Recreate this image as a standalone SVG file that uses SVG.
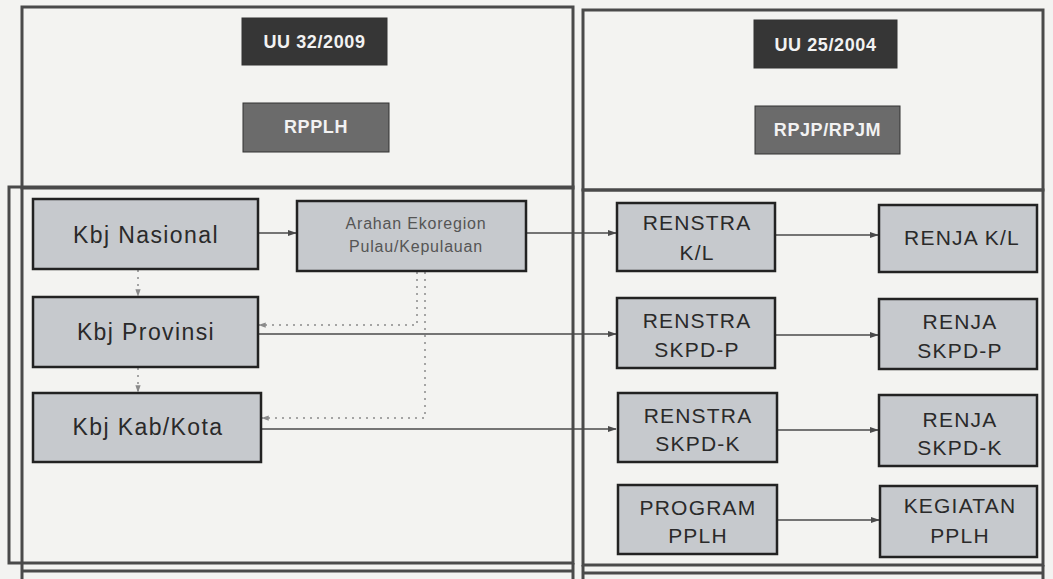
<svg xmlns="http://www.w3.org/2000/svg" width="1053" height="579" viewBox="0 0 1053 579">
  <defs>
    <style>
      .frame { fill: none; stroke: #4a4a4a; stroke-width: 3; }
      .node rect { fill: #c6c9cd; stroke: #222; stroke-width: 2.5; }
      .node text { font-family: "Liberation Sans", Arial, sans-serif; fill: #2a2a2a; text-anchor: middle; }
      .big { font-size: 23px; letter-spacing: 1.4px; }
      .mid { font-size: 21px; letter-spacing: 1.2px; }
      .small { font-size: 16px; letter-spacing: 0.8px; fill: #555 !important; }
      .hdr rect { stroke: #333; stroke-width: 1; }
      .hdr text { font-family: "Liberation Sans", Arial, sans-serif; font-weight: bold; font-size: 18px; fill: #f2f2f2; text-anchor: middle; letter-spacing: 0.6px; }
      .dark { fill: #363636; }
      .grey { fill: #6b6b6b; }
      .conn { fill: none; stroke: #4a4a4a; stroke-width: 1.5; }
      .dot { fill: none; stroke: #8a8a8a; stroke-width: 1.5; stroke-dasharray: 2 5; }
    </style>
    <marker id="arr" viewBox="0 0 10 10" refX="9" refY="5" markerWidth="6" markerHeight="6" orient="auto">
      <path d="M0,1.5 L10,5 L0,8.5 z" fill="#4a4a4a"/>
    </marker>
    <marker id="arrd" viewBox="0 0 10 10" refX="9" refY="5" markerWidth="5" markerHeight="5" orient="auto">
      <path d="M0,1.5 L10,5 L0,8.5 z" fill="#8a8a8a"/>
    </marker>
  </defs>

  <rect x="0" y="0" width="1053" height="579" fill="#f3f3f1"/>

  <g id="frames">
    <rect class="frame" x="22" y="7" width="551" height="181"/>
    <rect class="frame" x="9" y="187" width="564" height="376"/>
    <line class="frame" x1="22" y1="187" x2="22" y2="579"/>
    <line class="frame" x1="22" y1="571" x2="573" y2="571"/>
    <line class="frame" x1="573" y1="563" x2="573" y2="579"/>
    <rect class="frame" x="583" y="10" width="460" height="180"/>
    <rect class="frame" x="583" y="190" width="460" height="375"/>
    <line class="frame" x1="583" y1="573" x2="1043" y2="573"/>
    <line class="frame" x1="583" y1="565" x2="583" y2="579"/>
    <line class="frame" x1="1043" y1="565" x2="1043" y2="579"/>
  </g>

  <g id="hdr-uu32" class="hdr">
    <rect class="dark" x="242" y="18" width="145" height="47"/>
    <text x="314.5" y="48">UU 32/2009</text>
  </g>
  <g id="hdr-rpplh" class="hdr">
    <rect class="grey" x="243" y="103" width="146" height="49"/>
    <text x="316" y="133">RPPLH</text>
  </g>
  <g id="hdr-uu25" class="hdr">
    <rect class="dark" x="754" y="20" width="143" height="48"/>
    <text x="825.5" y="51">UU 25/2004</text>
  </g>
  <g id="hdr-rpjp" class="hdr">
    <rect class="grey" x="755" y="106" width="145" height="48"/>
    <text x="827.5" y="136">RPJP/RPJM</text>
  </g>

  <g id="connectors">
    <line class="conn" x1="258" y1="233" x2="296" y2="233" marker-end="url(#arr)"/>
    <line class="conn" x1="526" y1="233" x2="616" y2="233" marker-end="url(#arr)"/>
    <line class="conn" x1="258" y1="334" x2="616" y2="334" marker-end="url(#arr)"/>
    <line class="conn" x1="261" y1="429" x2="616" y2="429" marker-end="url(#arr)"/>
    <line class="conn" x1="775" y1="235" x2="878" y2="235" marker-end="url(#arr)"/>
    <line class="conn" x1="775" y1="335" x2="878" y2="335" marker-end="url(#arr)"/>
    <line class="conn" x1="777" y1="430" x2="878" y2="430" marker-end="url(#arr)"/>
    <line class="conn" x1="777" y1="520" x2="879" y2="520" marker-end="url(#arr)"/>
    <line class="dot" x1="138" y1="270" x2="138" y2="296" marker-end="url(#arrd)"/>
    <line class="dot" x1="138" y1="368" x2="138" y2="392" marker-end="url(#arrd)"/>
    <path class="dot" d="M417,272 V325 H259" marker-end="url(#arrd)"/>
    <path class="dot" d="M425,272 V418 H262" marker-end="url(#arrd)"/>
  </g>

  <g id="kbj-nasional" class="node">
    <rect x="33" y="199" width="225" height="70"/>
    <text class="big" x="146" y="243">Kbj Nasional</text>
  </g>
  <g id="arahan-ekoregion" class="node">
    <rect x="297" y="201" width="229" height="70"/>
    <text class="small" x="416" y="229">Arahan Ekoregion</text>
    <text class="small" x="416" y="252">Pulau/Kepulauan</text>
  </g>
  <g id="kbj-provinsi" class="node">
    <rect x="33" y="297" width="225" height="70"/>
    <text class="big" x="146" y="340">Kbj Provinsi</text>
  </g>
  <g id="kbj-kabkota" class="node">
    <rect x="33" y="393" width="228" height="69"/>
    <text class="big" x="148" y="435">Kbj Kab/Kota</text>
  </g>

  <g id="renstra-kl" class="node">
    <rect x="617" y="203" width="158" height="68"/>
    <text class="mid" x="697" y="230">RENSTRA</text>
    <text class="mid" x="697" y="260">K/L</text>
  </g>
  <g id="renja-kl" class="node">
    <rect x="879" y="205" width="158" height="67"/>
    <text class="mid" x="962" y="245">RENJA K/L</text>
  </g>
  <g id="renstra-skpd-p" class="node">
    <rect x="617" y="298" width="158" height="70"/>
    <text class="mid" x="697" y="328">RENSTRA</text>
    <text class="mid" x="697" y="357">SKPD-P</text>
  </g>
  <g id="renja-skpd-p" class="node">
    <rect x="879" y="299" width="158" height="70"/>
    <text class="mid" x="960" y="329">RENJA</text>
    <text class="mid" x="960" y="358">SKPD-P</text>
  </g>
  <g id="renstra-skpd-k" class="node">
    <rect x="618" y="393" width="159" height="69"/>
    <text class="mid" x="698" y="423">RENSTRA</text>
    <text class="mid" x="698" y="451">SKPD-K</text>
  </g>
  <g id="renja-skpd-k" class="node">
    <rect x="879" y="395" width="158" height="71"/>
    <text class="mid" x="960" y="427">RENJA</text>
    <text class="mid" x="960" y="455">SKPD-K</text>
  </g>
  <g id="program-pplh" class="node">
    <rect x="618" y="485" width="159" height="69"/>
    <text class="mid" x="698" y="515">PROGRAM</text>
    <text class="mid" x="698" y="543">PPLH</text>
  </g>
  <g id="kegiatan-pplh" class="node">
    <rect x="880" y="486" width="157" height="71"/>
    <text class="mid" x="960" y="513">KEGIATAN</text>
    <text class="mid" x="960" y="543">PPLH</text>
  </g>
</svg>
